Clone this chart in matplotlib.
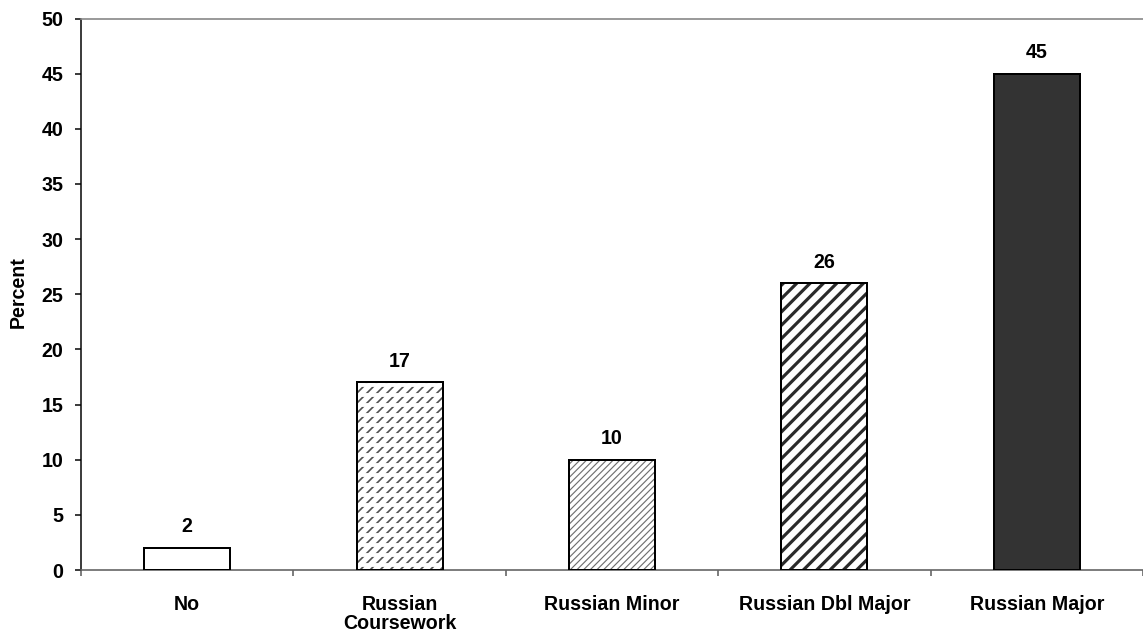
import matplotlib
matplotlib.use("Agg")
import matplotlib.pyplot as plt
import numpy as np

# Data
categories = ["No", "Russian\nCoursework", "Russian Minor", "Russian Dbl Major", "Russian Major"]
values = [2, 17, 10, 26, 45]
y_ticks = list(range(0, 51, 5))

plt.rcParams["font.family"] = ["Liberation Sans", "DejaVu Sans"]
plt.rcParams["font.weight"] = "bold"

DPI = 120
W, H = 1143, 638
fig = plt.figure(figsize=(W / DPI, H / DPI), dpi=DPI)
ax = fig.add_axes([81 / W, 1 - 570 / H, 1062 / W, (570 - 18.5) / H])

x = np.arange(len(categories))
bar_w = 0.405
FS = 11.8

# Fill styles for each bar: (facecolor, hatch, hatch colour, hatch linewidth)
styles = [
    ("white", None, None, None),
    ("white", "////", "#505050", 1.0),
    ("white", "//////", "#707070", 0.7),
    ("white", "///", "#2a2a2a", 1.9),
    ("#333333", None, None, None),
]


def hatch_bar(xi, val, face, hatch, hcolor, hlw, zorder):
    """Draw one bar body with an optional hatch of given colour/width."""
    with plt.rc_context({"hatch.linewidth": hlw if hlw else 1.0}):
        bars = ax.bar(xi, val, width=bar_w, facecolor=face,
                      edgecolor=hcolor if hcolor else face,
                      hatch=hatch, linewidth=0, zorder=zorder)
    for b in bars:
        if hasattr(b, "set_hatch_linewidth") and hlw:
            b.set_hatch_linewidth(hlw)
    return bars


for i, (face, hatch, hcolor, hlw) in enumerate(styles):
    hatch_bar(x[i], values[i], face, hatch, hcolor, hlw, zorder=2)

# Break the diagonal strokes of the coursework bar into rows of short dashes
hatch_bar(x[1], values[1], "none", "--", "white", 2.3, zorder=3)

# Black outlines on top
ax.bar(x, values, width=bar_w, facecolor="none", edgecolor="black",
       linewidth=1.2, zorder=4)

# Value labels
for xi, v in zip(x, values):
    ax.annotate(f"{v}", (xi, v), xytext=(0, 7), textcoords="offset points",
                ha="center", va="bottom", fontsize=FS, fontweight="bold")

ax.set_xlim(-0.5, len(categories) - 0.5)
ax.set_ylim(0, 50)
ax.set_yticks(y_ticks)
ax.set_yticklabels([str(t) for t in y_ticks], fontsize=FS, fontweight="bold")
ax.tick_params(axis="y", direction="out", length=3.6, width=0.9, pad=7,
               color="black")

ax.set_xticks(x)
ax.set_xticklabels(categories, fontsize=FS, fontweight="bold", linespacing=1.0)
ax.tick_params(axis="x", which="major", length=0, pad=15)
ax.set_xticks(np.arange(-0.5, len(categories), 1.0), minor=True)
ax.tick_params(axis="x", which="minor", direction="out", length=3.6,
               width=0.9, color="#555555")

ax.spines["right"].set_visible(False)
ax.spines["left"].set_color("black")
ax.spines["left"].set_linewidth(0.9)
ax.spines["bottom"].set_color("#666666")
ax.spines["bottom"].set_linewidth(1.0)
ax.spines["top"].set_color("#888888")
ax.spines["top"].set_linewidth(1.0)

fig.text(18.5 / W, 1 - 292 / H, "Percent", rotation=90, ha="center",
         va="center", fontsize=FS, fontweight="bold")

fig.savefig("out.png", dpi=DPI)
